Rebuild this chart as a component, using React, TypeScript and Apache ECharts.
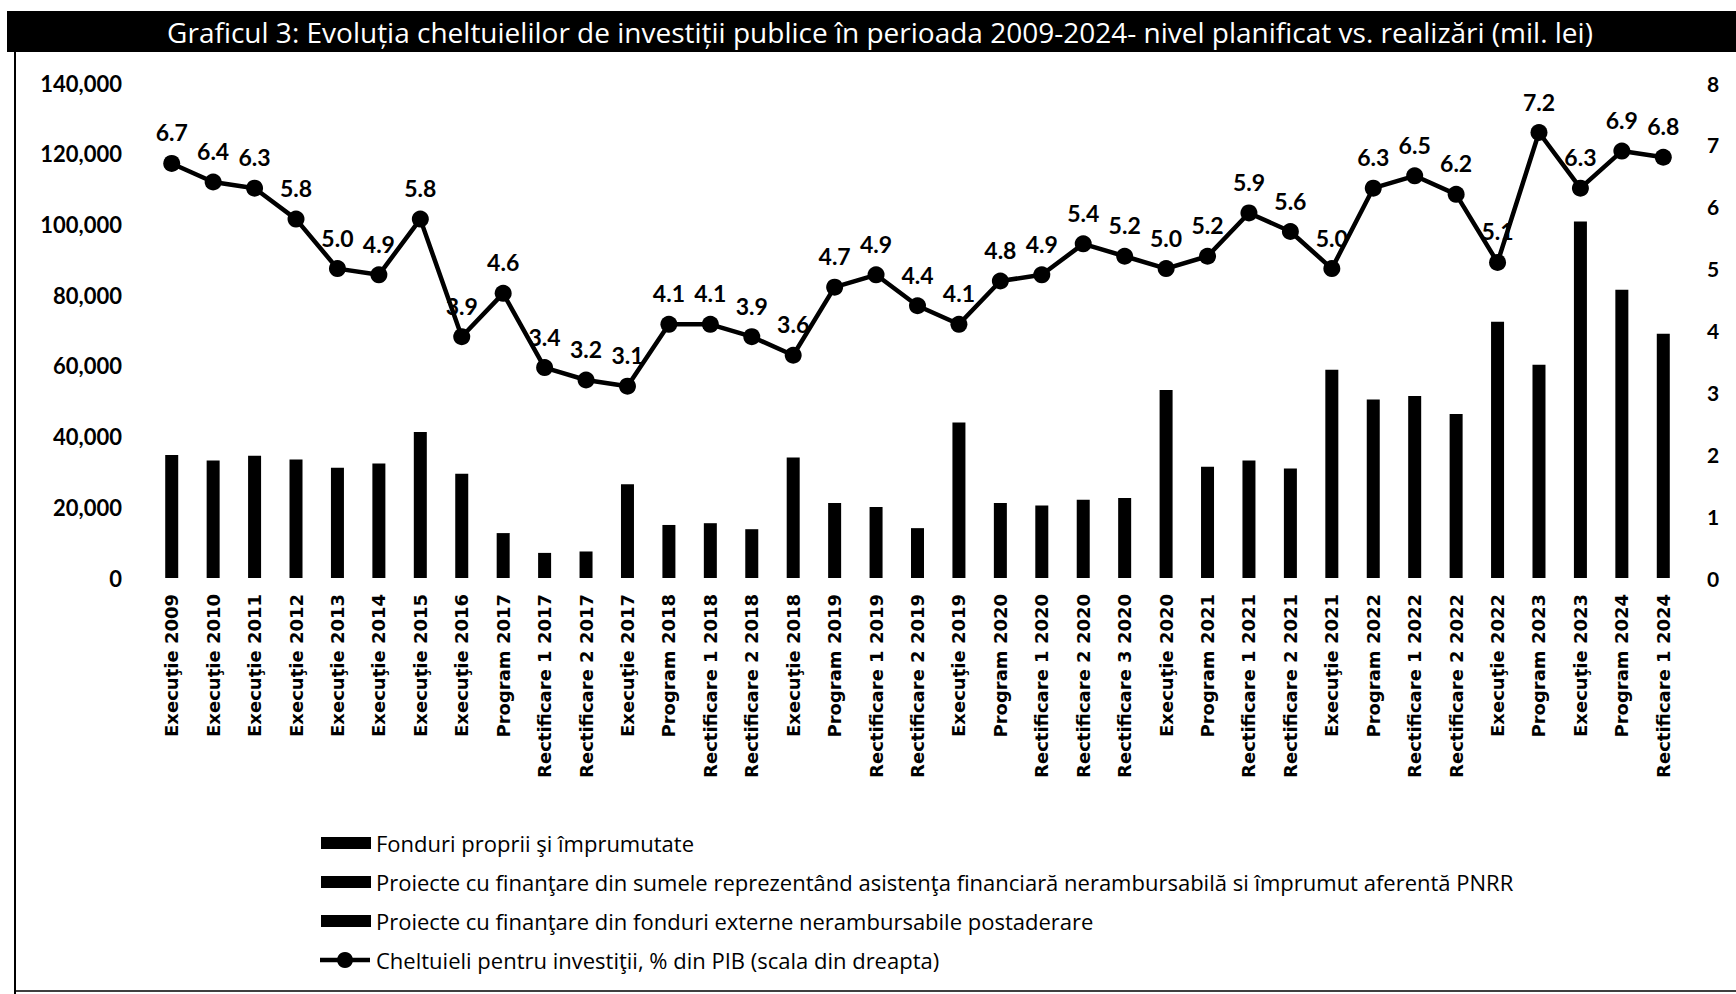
import React, { useEffect, useRef } from "react";
import * as echarts from "echarts";

const categories: string[] = [
  "Execuţie 2009", "Execuţie 2010", "Execuţie 2011", "Execuţie 2012", "Execuţie 2013",
  "Execuţie 2014", "Execuţie 2015", "Execuţie 2016", "Program 2017", "Rectificare 1 2017",
  "Rectificare 2 2017", "Execuţie 2017", "Program 2018", "Rectificare 1 2018", "Rectificare 2 2018",
  "Execuţie 2018", "Program 2019", "Rectificare 1 2019", "Rectificare 2 2019", "Execuţie 2019",
  "Program 2020", "Rectificare 1 2020", "Rectificare 2 2020", "Rectificare 3 2020", "Execuţie 2020",
  "Program 2021", "Rectificare 1 2021", "Rectificare 2 2021", "Execuţie 2021", "Program 2022",
  "Rectificare 1 2022", "Rectificare 2 2022", "Execuţie 2022", "Program 2023", "Execuţie 2023",
  "Program 2024", "Rectificare 1 2024",
];

// mil. lei (bars are all drawn in black; split between sources is not legible, totals shown)
const fonduriProprii: number[] = [
  34800, 33200, 34600, 33500, 31200, 32400, 41300, 29500, 12700, 7100,
  7500, 26500, 15000, 15500, 13800, 34100, 21200, 20100, 14100, 44000,
  21200, 20500, 22100, 22600, 53200, 31500, 33200, 31000, 58900, 50500,
  51500, 46400, 72500, 60300, 100800, 81500, 69100,
];
const pnrr: number[] = [];
const postaderare: number[] = [];

// % din PIB (right scale)
const pibPercent: number[] = [
  6.7, 6.4, 6.3, 5.8, 5.0, 4.9, 5.8, 3.9, 4.6, 3.4,
  3.2, 3.1, 4.1, 4.1, 3.9, 3.6, 4.7, 4.9, 4.4, 4.1,
  4.8, 4.9, 5.4, 5.2, 5.0, 5.2, 5.9, 5.6, 5.0, 6.3,
  6.5, 6.2, 5.1, 7.2, 6.3, 6.9, 6.8,
];

const seriesNames: string[] = [
  "Fonduri proprii şi împrumutate",
  "Proiecte cu finanţare din sumele reprezentând asistenţa financiară nerambursabilă si împrumut aferentă PNRR",
  "Proiecte cu finanţare din fonduri externe nerambursabile postaderare",
  "Cheltuieli pentru investiţii, % din PIB (scala din dreapta)",
];

const titleText =
  "Graficul 3: Evoluția cheltuielilor de investiții publice în perioada 2009-2024- nivel planificat vs. realizări (mil. lei)";

export default function App() {
  const ref = useRef<HTMLDivElement>(null);
  useEffect(() => {
    if (!ref.current) return;
    const chart = echarts.init(ref.current, undefined, { renderer: "svg" });
    const barCommon = {
      type: "bar",
      stack: "total",
      barWidth: 13,
      itemStyle: { color: "#000" },
    };
    const legendText = { fontFamily: "Open Sans", fontSize: 22, lineHeight: 21, color: "#000" };
    chart.setOption({
      animation: false,
      backgroundColor: "#fff",
      textStyle: { fontFamily: "Lato" },
      grid: { left: 151, right: 52, top: 83, bottom: 416, containLabel: false },
      xAxis: {
        type: "category",
        data: categories,
        axisLine: { show: false },
        axisTick: { show: false },
        axisLabel: {
          rotate: 90,
          interval: 0,
          fontFamily: "DejaVu Sans",
          fontWeight: "bold",
          fontSize: 18,
          color: "#000",
          margin: 16,
        },
      },
      yAxis: [
        {
          type: "value",
          min: 0,
          max: 140000,
          interval: 20000,
          splitLine: { show: false },
          axisLine: { show: false },
          axisTick: { show: false },
          axisLabel: {
            formatter: (v: number) => v.toLocaleString("en-US"),
            fontFamily: "Lato",
            fontWeight: "bold",
            fontSize: 22,
            color: "#000",
            margin: 29,
          },
        },
        {
          type: "value",
          min: 0,
          max: 8,
          interval: 1,
          position: "right",
          splitLine: { show: false },
          axisLine: { show: false },
          axisTick: { show: false },
          axisLabel: {
            fontFamily: "Lato",
            fontWeight: "bold",
            fontSize: 21,
            color: "#000",
            margin: 23,
          },
        },
      ],
      legend: {
        orient: "vertical",
        left: 316,
        top: 827,
        itemWidth: 50,
        itemHeight: 12,
        itemGap: 17,
        textStyle: legendText,
        data: [
          { name: seriesNames[0], icon: "rect" },
          { name: seriesNames[1], icon: "rect" },
          { name: seriesNames[2], icon: "rect" },
          {
            name: seriesNames[3],
            icon: "rect",
            itemStyle: { color: "rgba(0,0,0,0)", borderWidth: 0 },
          },
        ],
      },
      series: [
        { ...barCommon, name: seriesNames[0], data: fonduriProprii },
        { ...barCommon, name: seriesNames[1], data: pnrr },
        { ...barCommon, name: seriesNames[2], data: postaderare },
        {
          name: seriesNames[3],
          type: "line",
          yAxisIndex: 1,
          data: pibPercent,
          symbol: "circle",
          symbolSize: 17,
          lineStyle: { color: "#000", width: 4.5 },
          itemStyle: { color: "#000" },
          label: {
            show: true,
            position: "top",
            distance: 11,
            formatter: (p: any) => Number(p.value).toFixed(1),
            fontFamily: "Lato",
            fontWeight: "bold",
            fontSize: 23,
            color: "#000",
          },
          z: 5,
        },
      ],
      graphic: [
        {
          type: "rect",
          shape: { x: 7, y: 11, width: 1729, height: 41 },
          style: { fill: "#000" },
          silent: true,
        },
        {
          type: "text",
          x: 880,
          y: 32,
          style: {
            text: titleText,
            fill: "#fff",
            fontFamily: "Open Sans",
            fontSize: 28,
            align: "center",
            verticalAlign: "middle",
          },
          silent: true,
        },
        {
          type: "line",
          shape: { x1: 15, y1: 52, x2: 15, y2: 994 },
          style: { stroke: "#000", lineWidth: 2 },
          silent: true,
        },
        {
          type: "line",
          shape: { x1: 15, y1: 991, x2: 1736, y2: 991 },
          style: { stroke: "#000", lineWidth: 1.5 },
          silent: true,
        },
        {
          type: "line",
          shape: { x1: 320, y1: 960, x2: 370, y2: 960 },
          style: { stroke: "#000", lineWidth: 4.5 },
          silent: true,
          z: 10,
        },
        {
          type: "circle",
          shape: { cx: 345, cy: 960, r: 8 },
          style: { fill: "#000" },
          silent: true,
          z: 10,
        },
      ],
    });
    return () => chart.dispose();
  }, []);
  return (
    <div
      ref={ref}
      style={{ position: "absolute", left: 0, top: 0, width: 1736, height: 994 }}
    />
  );
}
